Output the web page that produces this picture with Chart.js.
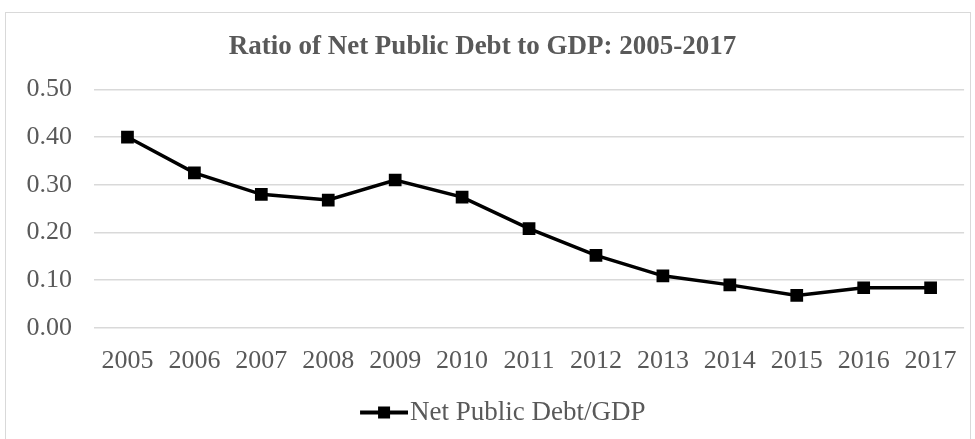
<!DOCTYPE html>
<html>
<head>
<meta charset="utf-8">
<script src="https://cdn.jsdelivr.net/npm/chart.js@4/dist/chart.umd.min.js"></script>
<style>
  html, body { margin: 0; padding: 0; background: #fff; }
  #wrap { position: relative; width: 975px; height: 439px; }
  #frame { position: absolute; left: 5px; top: 12px; width: 966px; height: 430px; border: 1px solid #d9d9d9; box-sizing: border-box; }
  canvas { position: absolute; left: 0; top: 0; }
</style>
</head>
<body>
<div id="wrap">
  <div id="frame"></div>
  <canvas id="c" width="975" height="439"></canvas>
</div>
<script>
// Years on the horizontal axis
const years = ['2005','2006','2007','2008','2009','2010','2011','2012','2013','2014','2015','2016','2017'];
// Net public debt as a share of GDP
const debtRatio = [0.400, 0.325, 0.280, 0.268, 0.310, 0.274, 0.208, 0.152, 0.109, 0.090, 0.068, 0.084, 0.084];
const seriesName = 'Net Public Debt/GDP';
const chartTitle = 'Ratio of Net Public Debt to GDP: 2005-2017';

const FONT = '"Liberation Serif", "Times New Roman", serif';
const TEXT = '#595959';

// Legend swatch: a short thick line with a square marker in the middle.
// The image is wider than its legend box and blank on the left, so the
// visible part ends right next to the label text.
const LEAD = 52;
const BOX_W = 77;
const swatch = document.createElement('canvas');
swatch.width = LEAD + 48; swatch.height = 13;
(function () {
  const g = swatch.getContext('2d');
  g.fillStyle = '#000';
  g.fillRect(LEAD, 4.5, 48, 4);
  g.fillRect(LEAD + 18, 0.5, 12, 12);
})();

new Chart(document.getElementById('c'), {
  type: 'line',
  data: {
    labels: years,
    datasets: [{
      label: seriesName,
      data: debtRatio,
      borderColor: '#000',
      backgroundColor: '#000',
      borderWidth: 3.5,
      pointStyle: 'rect',
      pointRadius: 9,
      pointBorderWidth: 0,
      pointBackgroundColor: '#000',
      tension: 0
    }]
  },
  options: {
    responsive: false,
    animation: false,
    devicePixelRatio: 1,
    layout: { padding: { left: 0, right: 10, top: 0, bottom: 3 } },
    plugins: {
      title: {
        display: true,
        text: chartTitle,
        color: TEXT,
        font: { family: FONT, size: 27, weight: 'bold', lineHeight: 1.2 },
        padding: { top: 31, bottom: 26 }
      },
      legend: {
        position: 'bottom',
        labels: {
          color: TEXT,
          font: { family: FONT, size: 27 },
          usePointStyle: true,
          pointStyle: swatch,
          pointStyleWidth: BOX_W,
          padding: 4,
          boxHeight: 13
        }
      },
      tooltip: { enabled: false }
    },
    scales: {
      x: {
        offset: true,
        grid: { display: false, drawTicks: false },
        border: { display: false },
        ticks: { color: TEXT, font: { family: FONT, size: 26 }, padding: 18, maxRotation: 0 }
      },
      y: {
        min: 0,
        max: 0.5,
        afterFit: axis => { axis.width = 94; },
        grid: { color: '#d9d9d9', lineWidth: 1.5, drawTicks: false },
        border: { display: false },
        ticks: {
          stepSize: 0.1,
          color: TEXT,
          font: { family: FONT, size: 26 },
          padding: 22,
          callback: v => Number(v).toFixed(2)
        }
      }
    }
  }
});
</script>
</body>
</html>
